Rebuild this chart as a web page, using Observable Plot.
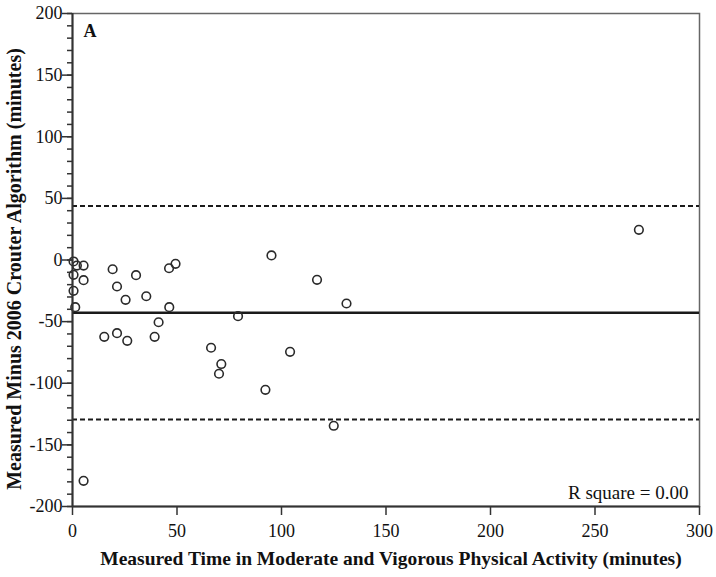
<!DOCTYPE html>
<html>
<head>
<meta charset="utf-8">
<script src="https://cdn.jsdelivr.net/npm/d3@7"></script>
<script src="https://cdn.jsdelivr.net/npm/@observablehq/plot@0.6"></script>
<style>
  html, body { margin: 0; padding: 0; background: #fff; }
  #chart svg text { font-family: "Liberation Serif", "Times New Roman", serif !important; }
</style>
</head>
<body>
<div id="chart"></div>
<script>
// Measured MVPA time (minutes)
const measuredTime = [0.5, 2.1, 5.3, 0.5, 5.3, 0.5, 1.3, 19.2, 21.3, 30.4, 25.4, 35.3, 46.2, 49.3, 46.3, 79.2,
  41.2, 15.2, 21.3, 26.2, 39.3, 66.3, 71.2, 95.2, 117, 131.1, 70.1, 104.1, 92.3, 125, 5.3, 271];
// Measured minus 2006 Crouter algorithm (minutes)
const difference = [-1.2, -4.5, -4.5, -12, -16.4, -25, -38.3, -7.5, -21.5, -12.3, -32.3, -29.4, -6.7, -3.1, -38.3, -45.6,
  -50.5, -62.3, -59.4, -65.6, -62.3, -71.2, -84.4, 3.7, -16.1, -35.3, -92.3, -74.5, -105.3, -134.5, -179.2, 24.5];
const meanDiff = [-42.8];
const limitsOfAgreement = [43.8, -129.4];
const xTicks = [0, 50, 100, 150, 200, 250, 300];
const yTicks = [-200, -150, -100, -50, 0, 50, 100, 150, 200];
const yMinorTicks = d3.range(-200, 201, 10);
const panelLabel = ["A"];
const rSquareLabel = ["R square = 0.00"];
const xLabel = ["Measured Time in Moderate and Vigorous Physical Activity (minutes)"];
const yLabel = ["Measured Minus 2006 Crouter Algorithm (minutes)"];

const serif = "Liberation Serif";
const points = measuredTime.map((x, i) => ({x, y: difference[i]}));

const chart = Plot.plot({
  width: 716,
  height: 577,
  marginLeft: 72,
  marginRight: 17,
  marginTop: 13,
  marginBottom: 71,
  style: {fontFamily: "'Liberation Serif', 'Times New Roman', serif", fontSize: "16px", color: "#111", background: "#fff"},
  x: {domain: [0, 300]},
  y: {domain: [-200, 200]},
  marks: [
    Plot.frame({stroke: "#666", strokeWidth: 1.5}),
    Plot.ruleY(meanDiff, {stroke: "#1a1a1a", strokeWidth: 2.4}),
    Plot.ruleY(limitsOfAgreement, {stroke: "#1a1a1a", strokeWidth: 2.2, strokeDasharray: "5,3"}),
    Plot.dot(points, {x: "x", y: "y", r: 4.3, stroke: "#2a2a2a", strokeWidth: 1.6, fill: "none"}),
    Plot.axisY({ticks: yMinorTicks, tickSize: 5, tickFormat: () => "", label: null, stroke: "#333", strokeWidth: 1.5}),
    Plot.axisY({ticks: yTicks, tickSize: 10, tickPadding: 0, tickFormat: d => String(d), stroke: "#333", strokeWidth: 1.5,
      fontSize: 18, fontFamily: serif, fontVariant: "normal", label: null}),
    Plot.axisX({ticks: xTicks, tickSize: 9, tickPadding: 9, tickFormat: d => String(d), stroke: "#333", strokeWidth: 1.5,
      fontSize: 18, fontFamily: serif, fontVariant: "normal", label: null}),
    Plot.ruleX([0], {stroke: "#333", strokeWidth: 2}),
    Plot.ruleY([-200], {stroke: "#333", strokeWidth: 2}),
    Plot.text(yLabel, {text: d => d, frameAnchor: "left", rotate: -90, dx: -58, dy: 9, lineAnchor: "middle", textAnchor: "middle", fontWeight: "bold", fontSize: 20, fontFamily: serif}),
    Plot.text(xLabel, {text: d => d, frameAnchor: "bottom", dx: 5, dy: 52, lineAnchor: "middle", textAnchor: "middle", fontWeight: "bold", fontSize: 19.5, fontFamily: serif}),
    Plot.text(panelLabel, {text: d => d, frameAnchor: "top-left", dx: 11, dy: 18, lineAnchor: "middle", fontWeight: "bold", fontSize: 18, textAnchor: "start", fontFamily: serif}),
    Plot.text(rSquareLabel, {text: d => d, frameAnchor: "bottom-right", dx: -11, dy: -14, lineAnchor: "middle", fontSize: 19, textAnchor: "end", fontFamily: serif})
  ]
});
document.getElementById("chart").appendChild(chart);
</script>
</body>
</html>
